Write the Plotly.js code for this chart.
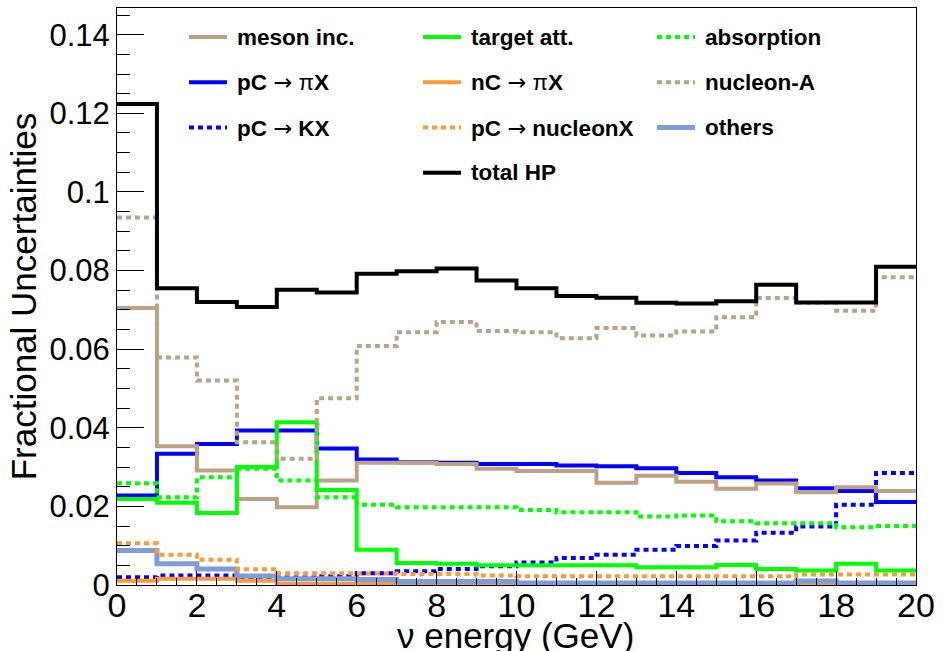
<!DOCTYPE html>
<html>
<head>
<meta charset="utf-8">
<script src="https://cdn.plot.ly/plotly-3.0.1.min.js"></script>
<style>
  html, body { margin: 0; padding: 0; background: #ffffff; }
  #chart { width: 949px; height: 651px; }
</style>
</head>
<body>
<div id="chart"></div>
<script>
// Neutrino energy bin edges (GeV)
const binEdges = [0, 1, 2, 3, 4, 5, 6, 7, 8, 9, 10, 11, 12, 13, 14, 15, 16, 17, 18, 19, 20];

// Fractional uncertainty per bin, one value per 1-GeV bin
const mesonInc    = [0.0705, 0.0353, 0.0291, 0.0219, 0.0198, 0.0266, 0.0311, 0.0311, 0.0308, 0.0296,
                     0.0290, 0.0290, 0.0260, 0.0278, 0.0263, 0.0245, 0.0258, 0.0236, 0.0249, 0.0239];
const targetAtt   = [0.0219, 0.0209, 0.0183, 0.0300, 0.0414, 0.0242, 0.0090, 0.0056, 0.0054, 0.0050,
                     0.0050, 0.0050, 0.0050, 0.0045, 0.0045, 0.0051, 0.0041, 0.0037, 0.0054, 0.0037];
const absorption  = [0.0259, 0.0223, 0.0274, 0.0296, 0.0266, 0.0223, 0.0204, 0.0198, 0.0198, 0.0198,
                     0.0191, 0.0185, 0.0185, 0.0174, 0.0177, 0.0162, 0.0157, 0.0157, 0.0147, 0.0150];
const pCpiX       = [0.0228, 0.0334, 0.0359, 0.0393, 0.0393, 0.0347, 0.0319, 0.0312, 0.0311, 0.0308,
                     0.0308, 0.0304, 0.0302, 0.0297, 0.0285, 0.0274, 0.0266, 0.0246, 0.0239, 0.0211];
const nCpiX       = [0.0011, 0.0016, 0.0016, 0.0011, 0.0003, 0.0003, 0.0003, 0.0001, 0.0001, 0.0001,
                     0.0001, 0.0001, 0.0001, 0.0001, 0.0001, 0.0001, 0.0001, 0.0003, 0.0001, 0.0001];
const nucleonA    = [0.0935, 0.0579, 0.0520, 0.0363, 0.0321, 0.0475, 0.0608, 0.0643, 0.0669, 0.0646,
                     0.0643, 0.0628, 0.0654, 0.0635, 0.0645, 0.0681, 0.0730, 0.0718, 0.0698, 0.0783];
const pCKX        = [0.0020, 0.0024, 0.0024, 0.0019, 0.0019, 0.0022, 0.0030, 0.0035, 0.0041, 0.0048,
                     0.0057, 0.0069, 0.0077, 0.0090, 0.0099, 0.0113, 0.0133, 0.0149, 0.0204, 0.0285];
const pCnucleonX  = [0.0106, 0.0077, 0.0064, 0.0040, 0.0030, 0.0030, 0.0029, 0.0028, 0.0028, 0.0024,
                     0.0022, 0.0022, 0.0022, 0.0022, 0.0022, 0.0022, 0.0022, 0.0027, 0.0027, 0.0027];
const others      = [0.0088, 0.0054, 0.0041, 0.0023, 0.0016, 0.0016, 0.0014, 0.0009, 0.0009, 0.0009,
                     0.0005, 0.0005, 0.0005, 0.0005, 0.0005, 0.0005, 0.0005, 0.0010, 0.0005, 0.0005];
const totalHP     = [0.1224, 0.0755, 0.0720, 0.0707, 0.0751, 0.0744, 0.0792, 0.0798, 0.0805, 0.0775,
                     0.0755, 0.0735, 0.0731, 0.0718, 0.0716, 0.0722, 0.0764, 0.0719, 0.0719, 0.0810];

// Axis labels
const xTitle = 'ν energy (GeV)';
const yTitle = 'Fractional Uncertainties';

const NORMAL = s => '<span style="font-weight:normal">' + s + '</span>';
const ARROW = '<span style="font-weight:normal;font-family:DejaVu Sans">→</span>';

// Series: label, values, colour, dash, width, legend slot [row, col]
const DOT = '5px,4px';
const series = [
  { name: 'pC ' + ARROW + ' ' + NORMAL('π') + 'X', y: pCpiX, color: '#0000ff', dash: 'solid', width: 4, slot: [1, 0] },
  { name: 'pC ' + ARROW + ' KX', y: pCKX, color: '#0000ff', dash: DOT, width: 4, slot: [2, 0] },
  { name: 'meson inc.', y: mesonInc, color: '#bea085', dash: 'solid', width: 4, slot: [0, 0] },
  { name: 'nC ' + ARROW + ' ' + NORMAL('π') + 'X', y: nCpiX, color: '#ff9933', dash: 'solid', width: 4, slot: [1, 1] },
  { name: 'others', y: others, color: '#7d9dd6', dash: 'solid', width: 5, slot: [2, 2] },
  { name: 'pC ' + ARROW + ' nucleonX', y: pCnucleonX, color: '#ff9933', dash: DOT, width: 4, slot: [2, 1] },
  { name: 'absorption', y: absorption, color: '#00ff00', dash: DOT, width: 4, slot: [0, 2] },
  { name: 'target att.', y: targetAtt, color: '#00ff00', dash: 'solid', width: 4, slot: [0, 1] },
  { name: 'nucleon-A', y: nucleonA, color: '#bea085', dash: DOT, width: 4, slot: [1, 2] },
  { name: 'total HP', y: totalHP, color: '#000000', dash: 'solid', width: 4, slot: [3, 1] }
];

// Step histograms: each bin value held from its low edge to the next edge
const traces = series.map(s => ({
  type: 'scatter',
  mode: 'lines',
  x: binEdges,
  y: s.y.concat([s.y[s.y.length - 1]]),
  line: { shape: 'hv', color: s.color, width: s.width, dash: s.dash },
  showlegend: false,
  hoverinfo: 'skip'
}));

// Frame geometry in pixels
const W = 949, H = 651;
const M = { l: 117, r: 33, t: 8, b: 66 };
const pw = W - M.l - M.r, ph = H - M.t - M.b;
const px = v => (v - M.l) / pw;
const py = v => (H - M.b - v) / ph;

// Three-column legend drawn inside the frame
const colLine = [189, 423, 657];
const colText = [235, 469, 703];
const rowY = [37, 82.3, 127.5, 172.7];
const shapes = [];
const annotations = [];
series.forEach(s => {
  const [r, c] = s.slot;
  shapes.push({
    type: 'line', xref: 'paper', yref: 'paper',
    x0: px(colLine[c]), x1: px(colLine[c] + 38), y0: py(rowY[r]), y1: py(rowY[r]),
    line: { color: s.color, width: s.width, dash: s.dash }
  });
  annotations.push({
    xref: 'paper', yref: 'paper', x: px(colText[c]), y: py(rowY[r]),
    xanchor: 'left', yanchor: 'middle', showarrow: false, text: s.name,
    font: { family: 'Liberation Sans, Arial, sans-serif', size: 22.5, color: '#000000', weight: 'bold' }
  });
});

// x-axis title placed just above the lower edge of the page
annotations.push({
  xref: 'paper', yref: 'paper', x: px(515), y: py(635),
  xanchor: 'center', yanchor: 'middle', showarrow: false, text: xTitle,
  font: { family: 'Liberation Sans, Arial, sans-serif', size: 35, color: '#000000' }
});

const xTickFont = { family: 'Liberation Sans, Arial, sans-serif', size: 34, color: '#000000' };
const yTickFont = { family: 'Liberation Sans, Arial, sans-serif', size: 31, color: '#000000' };
const titleFont = { family: 'Liberation Sans, Arial, sans-serif', size: 35, color: '#000000' };

const layout = {
  width: W, height: H,
  margin: M,
  paper_bgcolor: '#ffffff', plot_bgcolor: '#ffffff',
  showlegend: false,
  xaxis: {
    range: [0, 20], dtick: 2, tick0: 0,
    ticks: 'inside', ticklen: 14, tickwidth: 1, tickcolor: '#000000',
    minor: { dtick: 0.5, ticks: 'inside', ticklen: 7, tickwidth: 1, tickcolor: '#000000', showgrid: false },
    showline: true, linecolor: '#000000', linewidth: 1, mirror: true,
    showgrid: false, zeroline: false,
    tickfont: xTickFont, ticklabelstandoff: -10
  },
  yaxis: {
    range: [0, 0.1468], dtick: 0.02, tick0: 0,
    ticks: 'inside', ticklen: 27, tickwidth: 1, tickcolor: '#000000',
    minor: { dtick: 0.005, ticks: 'inside', ticklen: 13, tickwidth: 1, tickcolor: '#000000', showgrid: false },
    showline: true, linecolor: '#000000', linewidth: 1, mirror: true,
    showgrid: false, zeroline: false,
    tickfont: yTickFont,
    title: { text: yTitle, font: titleFont, standoff: 2 }
  },
  shapes: shapes,
  annotations: annotations
};

Plotly.newPlot('chart', traces, layout, { staticPlot: true, displayModeBar: false });
</script>
</body>
</html>
